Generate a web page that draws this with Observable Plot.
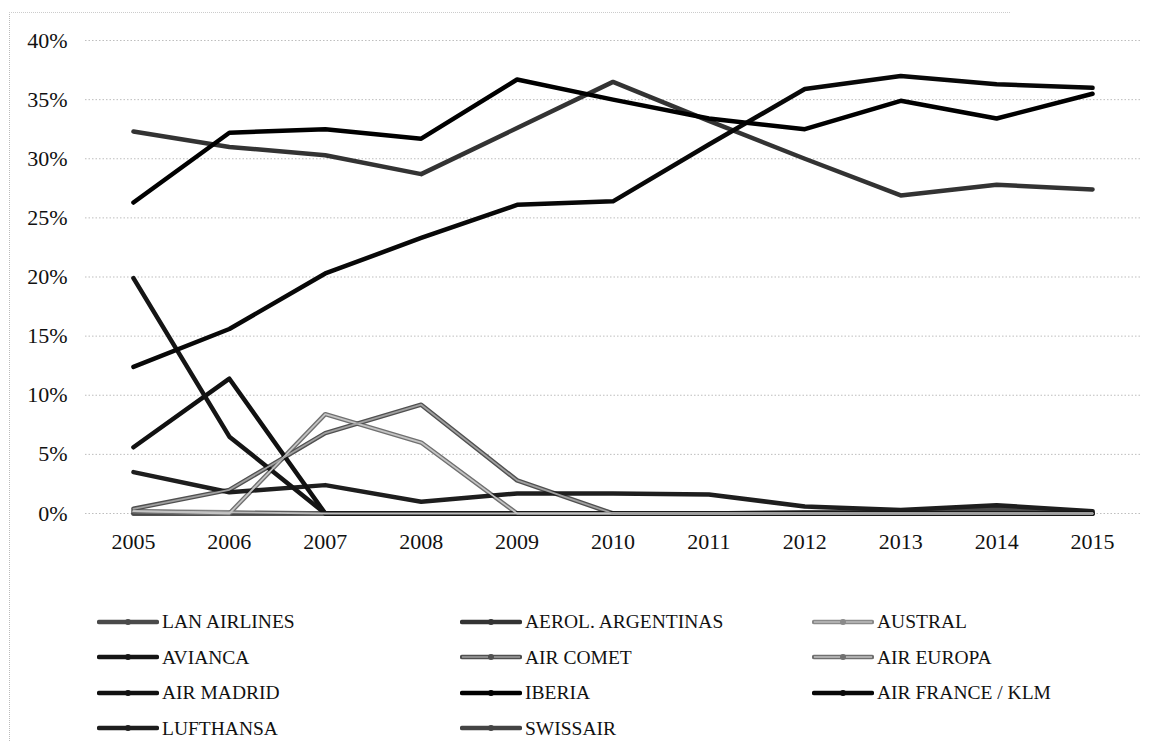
<!DOCTYPE html>
<html><head><meta charset="utf-8">
<script src="https://cdn.jsdelivr.net/npm/d3@7"></script>
<script src="https://cdn.jsdelivr.net/npm/@observablehq/plot@0.6"></script>
<style>
body{margin:0;background:#fff;font-family:"Liberation Serif",serif;}
#wrap{position:relative;width:1163px;height:742px;overflow:hidden;background:#fff}
#frame{position:absolute;left:9px;top:12px;width:1000px;height:740px;border-left:1px dotted #bbb;border-top:1px dotted #ccc;pointer-events:none}
#legend{position:absolute;left:97px;top:604px;display:grid;grid-template-columns:363px 352px 300px;grid-auto-rows:35.5px;font-size:19.5px;color:#111}
.item{display:flex;align-items:center;white-space:nowrap;line-height:1}
.item svg{margin-right:3px}
</style></head><body>
<div id="wrap"><div id="chart"></div><div id="legend"></div><div id="frame"></div></div>
<script>
const years = [2005, 2006, 2007, 2008, 2009, 2010, 2011, 2012, 2013, 2014, 2015];
const seriesNames = ["LAN AIRLINES", "AEROL. ARGENTINAS", "AUSTRAL", "AVIANCA", "AIR COMET", "AIR EUROPA", "AIR MADRID", "IBERIA", "AIR FRANCE / KLM", "LUFTHANSA", "SWISSAIR"];
const lanAirlines     = [0, 0, 0, 0, 0, 0, 0, 0.1, 0.2, 0.4, 0.1];
const aerolArgentinas = [32.3, 31.0, 30.3, 28.7, 32.6, 36.5, 33.2, 30.0, 26.9, 27.8, 27.4];
const austral         = [0.2, 0.1, 0, 0, 0, 0, 0, 0, 0, 0, 0];
const avianca         = [19.9, 6.5, 0, 0, 0, 0, 0, 0, 0, 0, 0];
const airComet        = [0.4, 2.0, 6.8, 9.2, 2.8, 0, 0, 0, 0, 0, 0];
const airEuropa       = [0.2, 0, 8.4, 6.0, 0, 0, 0, 0, 0, 0, 0];
const airMadrid       = [5.6, 11.4, 0, 0, 0, 0, 0, 0, 0, 0, 0];
const iberia          = [26.3, 32.2, 32.5, 31.7, 36.7, 35.0, 33.4, 32.5, 34.9, 33.4, 35.5];
const airFranceKlm    = [12.4, 15.6, 20.3, 23.3, 26.1, 26.4, 31.2, 35.9, 37.0, 36.3, 36.0];
const lufthansa       = [3.5, 1.8, 2.4, 1.0, 1.7, 1.7, 1.6, 0.6, 0.3, 0.7, 0.2];
const swissair        = [0, 0, 0, 0, 0, 0, 0, 0, 0, 0, 0];
const yTicks = [0, 5, 10, 15, 20, 25, 30, 35, 40];

const valuesByName = {
  "LAN AIRLINES": lanAirlines, "AEROL. ARGENTINAS": aerolArgentinas, "AUSTRAL": austral,
  "AVIANCA": avianca, "AIR COMET": airComet, "AIR EUROPA": airEuropa, "AIR MADRID": airMadrid,
  "IBERIA": iberia, "AIR FRANCE / KLM": airFranceKlm, "LUFTHANSA": lufthansa, "SWISSAIR": swissair
};
const colors = {
  "LAN AIRLINES": "#4a4a4a", "AEROL. ARGENTINAS": "#333", "AUSTRAL": "#8a8a8a",
  "AVIANCA": "#151515", "AIR COMET": "#505050", "AIR EUROPA": "#707070", "AIR MADRID": "#111",
  "IBERIA": "#000", "AIR FRANCE / KLM": "#080808", "LUFTHANSA": "#1e1e1e", "SWISSAIR": "#444"
};
const inner = {"AIR COMET": "#a0a0a0", "AIR EUROPA": "#c4c4c4", "AUSTRAL": "#bdbdbd"};
const drawOrder = ["SWISSAIR", "AUSTRAL", "LAN AIRLINES", "AIR EUROPA", "AIR COMET", "LUFTHANSA", "AIR MADRID", "AVIANCA", "AEROL. ARGENTINAS", "AIR FRANCE / KLM", "IBERIA"];

const table = drawOrder.flatMap(name => valuesByName[name].map((v, i) => ({series: name, year: years[i], value: v})));
const innerTable = table.filter(d => inner[d.series]);

const chart = Plot.plot({
  width: 1163, height: 570,
  marginLeft: 85, marginRight: 23, marginTop: 40, marginBottom: 57,
  style: {fontFamily: "'Liberation Serif', serif", fontSize: "22px", color: "#111", background: "transparent"},
  x: {domain: [2004.5, 2015.5]},
  y: {domain: [0, 40]},
  color: {domain: drawOrder, range: drawOrder.map(n => colors[n])},
  marks: [
    Plot.gridY(yTicks, {stroke: "#888", strokeOpacity: 0.55, strokeDasharray: "1.5,2"}),
    Plot.axisY(yTicks, {tickSize: 0, tickPadding: 18, tickFormat: d => d + "%", label: null}),
    Plot.axisX(years, {tickSize: 0, tickPadding: 20, tickFormat: d => String(d), label: null}),
    Plot.line(table, {x: "year", y: "value", z: "series", stroke: "series", strokeWidth: 4.5, strokeLinecap: "round", strokeLinejoin: "round"}),
    Plot.line(innerTable, {x: "year", y: "value", z: "series", stroke: d => inner[d.series], strokeWidth: 1.8, strokeLinecap: "round", strokeLinejoin: "round"})
  ]
});
document.getElementById("chart").appendChild(chart);

const legend = document.getElementById("legend");
for (const name of seriesNames) {
  const div = document.createElement("div");
  div.className = "item";
  const c = colors[name];
  const inn = inner[name];
  div.innerHTML = `<svg width="62" height="12"><line x1="2" y1="6" x2="60" y2="6" stroke="${c}" stroke-width="4.5" stroke-linecap="round"/>` +
    (inn ? `<line x1="2" y1="6" x2="60" y2="6" stroke="${inn}" stroke-width="1.6"/>` : "") +
    `<circle cx="31" cy="6" r="3" fill="${c}"/></svg><span>${name}</span>`;
  legend.appendChild(div);
}
</script>
</body></html>
